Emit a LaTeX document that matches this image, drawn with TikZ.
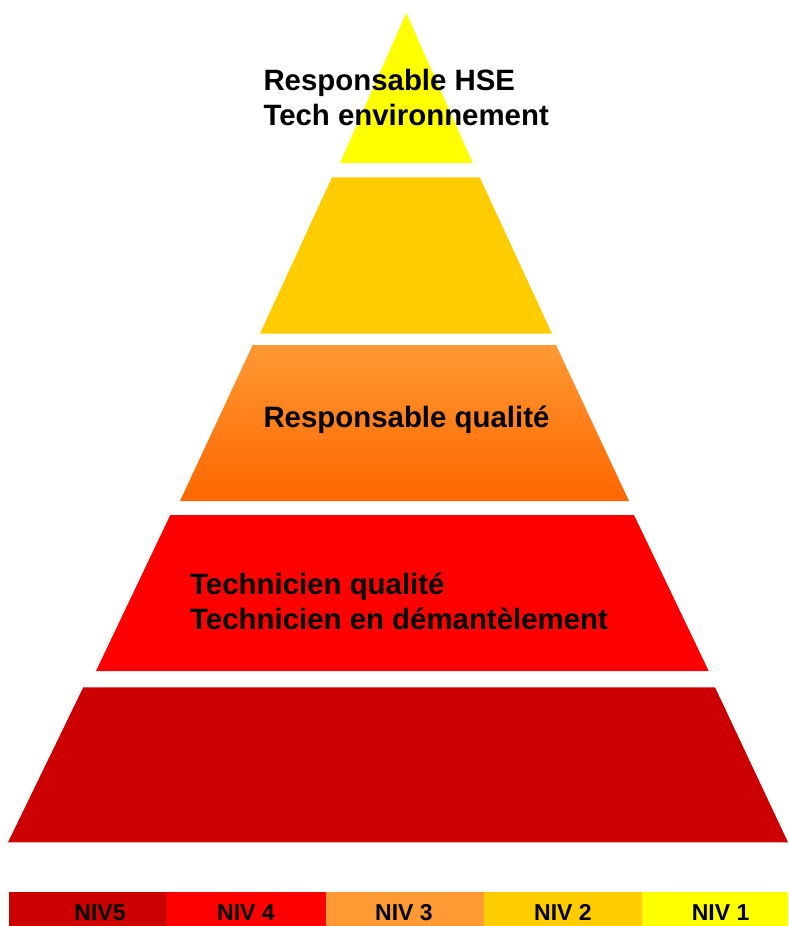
\documentclass[tikz,border=0pt]{standalone}
\usepackage{fontspec}
\setmainfont{Liberation Sans}
\definecolor{cniva}{HTML}{FFFF00}
\definecolor{cnivb}{HTML}{FFCC00}
\definecolor{cnivc}{HTML}{FF9933}
\definecolor{cnivcb}{HTML}{FF6600}
\definecolor{cnivd}{HTML}{FF0000}
\definecolor{cnive}{HTML}{CC0000}
\begin{document}
\begin{tikzpicture}[x=1pt,y=-1pt,
  lvltext/.style={anchor=base west,inner sep=0pt,font=\fontsize{29.4}{35}\selectfont\bfseries},
  legtext/.style={anchor=base,inner sep=0pt,font=\fontsize{23}{27}\selectfont\bfseries}]
\useasboundingbox (0,0) rectangle (788,926);
% pyramid levels
\fill[cniva] (406.3,13) -- (472.7,163) -- (340,163) -- cycle;
\fill[cnivb] (332,177.3) -- (479.7,177.3) -- (552,333.7) -- (260,333.7) -- cycle;
\shade[top color=cnivc,bottom color=cnivcb] (252.7,345) -- (556,345) -- (629,501) -- (180,501) -- cycle;
\fill[cnivd] (170.3,515) -- (634,515) -- (708.7,671) -- (96,671) -- cycle;
\fill[cnive] (83.3,687.3) -- (715,687.3) -- (788,842.3) -- (8,842.3) -- cycle;
% texts
\node[lvltext] (hse) at (263.3,90) {Responsable HSE};
\node[lvltext] (tenv) at (263.3,125.3) {Tech environnement};
\node[lvltext] (rq) at (263.3,427.3) {Responsable qualité};
\node[lvltext] (tq) at (190,594) {Technicien qualité};
\node[lvltext] (tdem) at (190,629) {Technicien en démantèlement};
% legend
\fill[cnive] (9,892) rectangle (167,926);
\fill[cnivd] (167,892) rectangle (326,926);
\fill[cnivc] (326,892) rectangle (484,926);
\fill[cnivb] (484,892) rectangle (642,926);
\fill[cniva] (642,892) rectangle (788,926);
\node[legtext] (n5) at (100,920) {NIV5};
\node[legtext] (n4) at (246,920) {NIV 4};
\node[legtext] (n3) at (404,920) {NIV 3};
\node[legtext] (n2) at (563,920) {NIV 2};
\node[legtext] (n1) at (720.6,920) {NIV 1};
\end{tikzpicture}
\end{document}
